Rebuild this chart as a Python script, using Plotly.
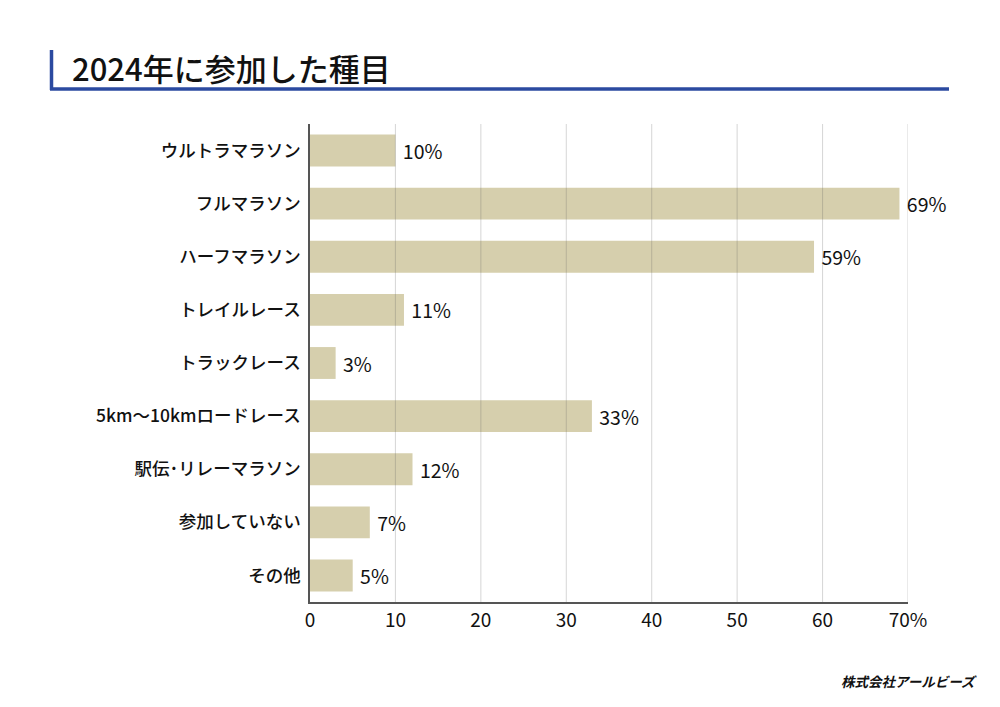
import plotly.graph_objects as go

categories = ["ウルトラマラソン", "フルマラソン", "ハーフマラソン", "トレイルレース", "トラックレース",
              "5km〜10kmロードレース", "駅伝･リレーマラソン", "参加していない", "その他"]
values = [10, 69, 59, 11, 3, 33, 12, 7, 5]
tick_vals = [0, 10, 20, 30, 40, 50, 60, 70]
tick_text = ["0", "10", "20", "30", "40", "50", "60", "70%"]
title_text = "2024年に参加した種目"
footer_text = "株式会社アールビーズ"

FONT = "Noto Sans CJK JP"
OFF = 8  # page body margin offset
L, R, T, B = 310 - OFF, 92, 124 - OFF, 105 - OFF
W, H = 1000 - OFF, 707 - OFF - OFF
pw, ph = W - L - R, H - T - B

def px(x):
    return (x - OFF - L) / pw

def py(y):
    return (H - B - (y - OFF)) / ph

fig = go.Figure(go.Bar(
    y=categories, x=values, orientation="h",
    marker=dict(color="#d6cfad", line=dict(width=0)),
    width=0.6,
    texttemplate=" %{x}%", textposition="outside", cliponaxis=False,
    textfont=dict(family=FONT, size=19.5, color="#111111", weight=400),
    hoverinfo="skip",
))

shapes = []
for v in tick_vals[1:]:
    shapes.append(dict(type="line", xref="x", yref="paper", x0=v, x1=v, y0=0, y1=1,
                       layer="above", line=dict(color="rgba(90,90,90,0.25)", width=1)))
# title decoration
shapes.append(dict(type="line", xref="paper", yref="paper", x0=px(51.5), x1=px(51.5),
                   y0=py(50), y1=py(90), line=dict(color="#2b4aa0", width=3.5)))
shapes.append(dict(type="line", xref="paper", yref="paper", x0=px(50), x1=px(949),
                   y0=py(89), y1=py(89), line=dict(color="#2b4aa0", width=3.5)))

fig.update_layout(
    width=W, height=H,
    margin=dict(l=L, r=R, t=T, b=B),
    paper_bgcolor="white", plot_bgcolor="white",
    showlegend=False,
    font=dict(family=FONT, color="#111111"),
    shapes=shapes,
    annotations=[
        dict(text=title_text, xref="paper", yref="paper", x=px(70), y=py(68),
             xanchor="left", yanchor="middle", showarrow=False,
             font=dict(family=FONT, size=31, color="#111111", weight=500)),
        dict(text="<b><i>" + footer_text + "</i></b>", xref="paper", yref="paper",
             x=px(979), y=py(681), xanchor="right", yanchor="middle", showarrow=False,
             font=dict(family=FONT, size=13.5, color="#111111")),
    ],
)
fig.update_xaxes(range=[0, 70], tickvals=tick_vals, ticktext=tick_text,
                 showgrid=False, zeroline=False, showline=True, linecolor="#555555", linewidth=1.5,
                 ticks="", tickfont=dict(family=FONT, size=19, color="#111111", weight=400),
                 ticklabelstandoff=0)
fig.update_yaxes(autorange="reversed", showgrid=False, showline=True, linecolor="#555555",
                 linewidth=1.5, ticks="", ticklabelstandoff=4,
                 tickfont=dict(family=FONT, size=17.5, color="#111111", weight=500))

fig.write_html("out.html")
